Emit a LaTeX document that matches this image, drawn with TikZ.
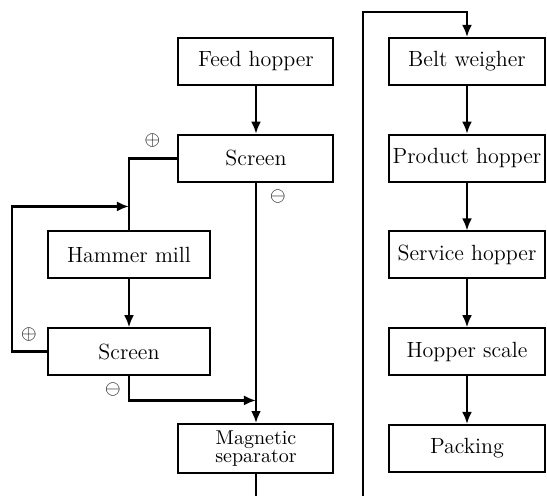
\documentclass[tikz,border=0pt]{standalone}
\usetikzlibrary{positioning,arrows.meta}

\tikzstyle{box} = [rectangle, minimum width=77.5pt, minimum height=23.5pt, inner xsep=1pt, text centered, draw=black, line width=1pt, font=\fontsize{11}{13}\selectfont]
\tikzstyle{widebox} = [box, minimum width=81pt]
\tikzstyle{pipe} = [line width=1.4pt]
\tikzstyle{arrow} = [line width=1.4pt,-{Latex[length=6pt,width=5pt]}]
\tikzstyle{signlabel} = [inner sep=0pt, font=\normalsize]

\begin{document}
\begin{tikzpicture}[node distance=1.7cm]
\useasboundingbox (-128pt,-217.25pt) rectangle (145.5pt,30.75pt);

\node (feed) [box] {Feed hopper};
\node (screen) [box, below of=feed] {Screen};
\node (mill) [widebox, below of=screen, xshift=-63.5pt] {Hammer mill};
\node (rescreen) [widebox, below of=mill] {Screen};
\node (magnet) [box, below of=rescreen, xshift=63.5pt, minimum height=24pt, align=center, font=\fontsize{10}{9}\selectfont] {Magnetic\\separator};

\node (belt) [box, node distance=105.5pt, right of=feed] {Belt weigher};
\node (product) [box, below of=belt] {Product hopper};
\node (service) [box, below of=product] {Service hopper};
\node (scale) [box, below of=service] {Hopper scale};
\node (packing) [box, below of=scale] {Packing};

% junctions and bends of the lines
\coordinate (join) at ([yshift=24.25pt]mill.center);
\coordinate (loop) at ([xshift=-58.5pt]join);
\coordinate (merge) at ([yshift=24pt]magnet.center);
\coordinate (out) at ([yshift=-24.5pt]magnet.center);
\coordinate (top) at ([yshift=24.75pt]belt.center);
\coordinate (riser) at ([xshift=-52pt]top);

\node (plus) [signlabel] at ([xshift=-12.5pt,yshift=8.75pt]screen.west) {$\oplus$};
\node (minus) [signlabel] at ([xshift=11pt,yshift=-7pt]screen.south) {$\ominus$};
\node (replus) [signlabel] at ([xshift=-9pt,yshift=8.75pt]rescreen.west) {$\oplus$};
\node (reminus) [signlabel] at ([xshift=-8pt,yshift=-6.5pt]rescreen.south) {$\ominus$};

\draw [arrow] (feed) -- (screen);
\draw [pipe] (screen.west) -| (mill.north);
\draw [arrow] (rescreen.west) -| (loop) -- (join);
\draw [arrow] (mill) -- (rescreen);
\draw [arrow] (rescreen.south) |- (merge);
\draw [arrow] (screen) -- (magnet);
\draw [pipe] (magnet) -- (out);
\draw [arrow] (riser |- out) -- (riser) -- (top) -- (belt);
\draw [arrow] (belt) -- (product);
\draw [arrow] (product) -- (service);
\draw [arrow] (service) -- (scale);
\draw [arrow] (scale) -- (packing);

\end{tikzpicture}
\end{document}
